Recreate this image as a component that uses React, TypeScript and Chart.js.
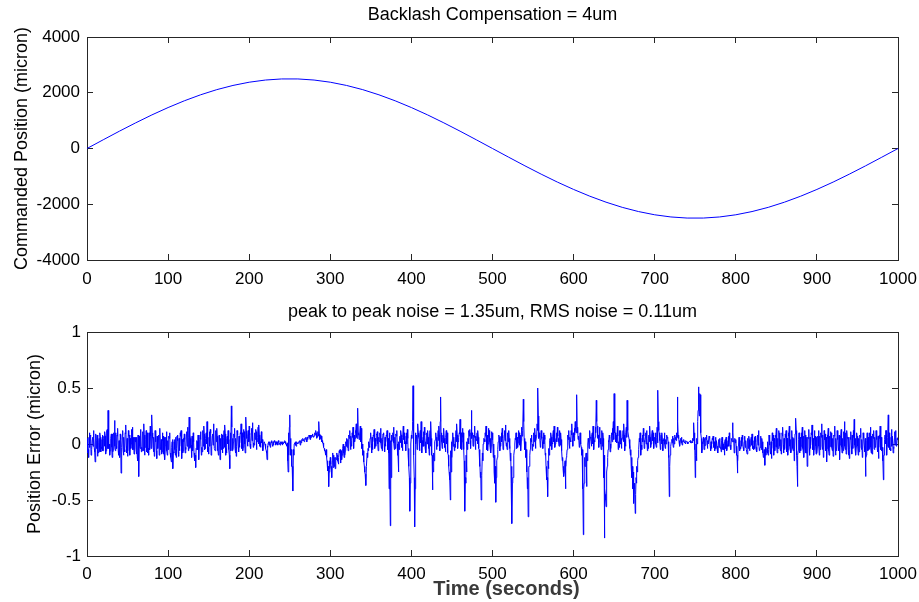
import React, { useEffect, useRef } from "react";
import { Chart, registerables } from "chart.js";

Chart.register(...registerables);

const FONT = "'Liberation Sans', Arial, Helvetica, sans-serif";

const topTitle = "Backlash Compensation = 4um";
const bottomTitle = "peak to peak noise = 1.35um, RMS noise = 0.11um";
const topYLabel = "Commanded Position (micron)";
const bottomYLabel = "Position Error (micron)";
const xLabel = "Time (seconds)";

// Commanded position (micron), sampled every 20 s
const cmdTimes = [
  0, 20, 40, 60, 80, 100, 120, 140, 160, 180, 200, 220, 240, 260, 280, 300, 320, 340, 360, 380,
  400, 420, 440, 460, 480, 500, 520, 540, 560, 580, 600, 620, 640, 660, 680, 700, 720, 740, 760, 780,
  800, 820, 840, 860, 880, 900, 920, 940, 960, 980, 1000,
];
const cmdPosition = [
  0, 313, 622, 920, 1205, 1469, 1711, 1926, 2111, 2262, 2378, 2456, 2495, 2495, 2456, 2378, 2262, 2111, 1926, 1711,
  1469, 1205, 920, 622, 313, 0, -313, -622, -920, -1205, -1469, -1711, -1926, -2111, -2262, -2378, -2456, -2495, -2495, -2456,
  -2378, -2262, -2111, -1926, -1711, -1469, -1205, -920, -622, -313, 0,
];

// Position error (micron) at even seconds t = 0, 2, ..., 1000
const posErrorEven = [
  0.05, -0.12, 0.08, -0.05, 0.12, -0.16, 0.03, -0.08, 0.1, -0.04,
  -0.06, 0.11, -0.03, 0.3, -0.1, 0.09, -0.07, 0.21, -0.02, 0.14,
  -0.08, -0.26, 0.12, -0.05, 0.17, -0.11, 0.08, -0.04, 0.15, -0.09,
  0.06, -0.12, -0.29, 0.13, -0.06, 0.18, -0.03, 0.1, -0.1, 0.16,
  0.26, -0.07, 0.12, -0.13, 0.05, 0.14, -0.09, 0.07, -0.14, 0.11,
  -0.05, 0.1, -0.16, -0.22, 0.04, -0.12, 0.08, -0.06, 0.12, -0.08,
  0.09, -0.05, 0.15, 0.24, -0.03, 0.06, -0.1, -0.21, 0.02, -0.14,
  0.11, -0.07, 0.16, -0.04, 0.2, -0.09, 0.13, -0.02, 0.18, -0.06,
  0.14, -0.1, -0.14, 0.09, -0.04, 0.17, -0.08, 0.12, -0.22, 0.34,
  -0.05, 0.14, -0.11, 0.08, -0.03, 0.18, -0.06, 0.11, 0.24, -0.02,
  0.16, -0.04, 0.19, -0.01, 0.13, 0.02, 0.17, -0.03, 0.04, 0.01,
  -0.02, -0.14, 0.02, -0.03, 0.03, -0.01, 0.02, 0.0, 0.03, -0.01,
  0.02, 0.0, 0.03, -0.02, -0.25, 0.26, -0.05, -0.42, 0.01, -0.02,
  0.0, 0.03, 0.01, 0.05, 0.02, 0.06, 0.04, 0.08, 0.05, 0.09,
  0.07, 0.12, 0.06, 0.2, 0.08, 0.03, -0.03, -0.1, -0.16, -0.38,
  -0.12, -0.3, -0.1, -0.22, -0.08, -0.18, -0.05, -0.14, 0.0, -0.1,
  0.05, -0.06, 0.12, -0.02, 0.15, 0.02, 0.18, 0.32, 0.04, 0.14,
  -0.1, -0.2, -0.37, -0.12, -0.02, 0.1, -0.05, 0.13, -0.02, 0.11,
  0.04, 0.14, -0.06, 0.1, -0.02, 0.12, -0.08, -0.73, 0.02, 0.15,
  -0.04, 0.12, -0.25, 0.07, -0.03, 0.16, 0.0, 0.1, -0.1, -0.6,
  0.08, 0.52, -0.74, 0.05, 0.18, -0.06, 0.2, -0.02, 0.15, -0.08,
  0.12, -0.1, 0.2, -0.41, -0.15, 0.1, -0.02, 0.16, 0.42, -0.04,
  0.14, -0.07, 0.1, -0.2, -0.5, -0.12, 0.06, -0.03, 0.18, 0.02,
  0.22, -0.05, 0.1, -0.6, -0.25, 0.05, 0.13, 0.3, -0.02, 0.16,
  0.03, 0.12, -0.2, -0.5, -0.15, 0.04, 0.16, -0.06, 0.12, -0.08,
  0.1, -0.25, -0.52, -0.12, 0.08, -0.02, 0.14, 0.0, 0.17, -0.05,
  0.12, -0.15, -0.71, -0.2, 0.05, -0.04, 0.12, 0.02, 0.15, 0.4,
  -0.05, -0.25, -0.65, -0.1, 0.08, -0.02, 0.14, 0.06, 0.5, 0.1,
  0.12, -0.04, 0.08, -0.2, -0.47, -0.1, 0.1, 0.0, 0.16, 0.04,
  0.15, -0.02, 0.1, -0.15, -0.29, -0.4, -0.05, 0.12, 0.03, 0.18,
  0.06, 0.2, 0.44, 0.05, 0.1, -0.1, -0.81, -0.2, -0.38, 0.05,
  0.12, -0.02, 0.16, 0.02, 0.39, 0.08, 0.15, -0.05, 0.1, -0.84,
  -0.56, -0.12, 0.08, -0.04, 0.14, 0.45, 0.02, 0.16, -0.03, 0.12,
  0.05, 0.18, -0.02, 0.39, 0.08, -0.1, -0.3, -0.53, -0.62, -0.2,
  -0.08, 0.1, -0.05, 0.14, 0.02, 0.12, -0.04, 0.16, 0.0, 0.1,
  0.06, -0.03, 0.48, 0.04, 0.08, -0.06, 0.1, 0.0, 0.05, -0.47,
  -0.02, 0.07, 0.0, 0.06, 0.42, 0.02, 0.05, -0.01, 0.04, 0.0,
  0.02, 0.01, 0.03, 0.02, 0.19, -0.3, 0.05, 0.51, 0.44, -0.08,
  0.06, -0.02, 0.08, 0.0, 0.05, -0.04, 0.07, -0.06, 0.03, -0.08,
  0.05, -0.07, 0.02, -0.1, 0.06, -0.03, 0.1, -0.05, 0.19, -0.08,
  0.04, -0.26, 0.06, -0.04, 0.08, -0.06, 0.03, -0.09, 0.07, -0.02,
  0.09, -0.05, 0.07, -0.07, 0.12, -0.03, 0.05, -0.12, -0.19, -0.06,
  -0.1, 0.04, -0.13, 0.08, -0.06, 0.14, -0.04, 0.1, -0.09, 0.15,
  -0.05, 0.12, -0.1, 0.16, -0.08, 0.06, -0.15, 0.23, -0.38, 0.1,
  -0.06, 0.15, -0.12, 0.08, -0.2, 0.13, -0.04, 0.17, -0.1, 0.07,
  -0.08, 0.12, -0.05, 0.18, -0.12, 0.09, -0.16, 0.14, -0.03, 0.1,
  -0.11, 0.16, -0.06, 0.08, -0.14, 0.13, -0.02, 0.2, -0.09, 0.06,
  -0.13, 0.11, -0.04, 0.22, -0.1, 0.07, -0.07, 0.14, -0.12, 0.05,
  -0.29, 0.1, -0.05, 0.15, -0.09, 0.12, -0.03, 0.09, -0.13, 0.16,
  -0.06, -0.32, 0.08, -0.1, 0.26, -0.05, 0.13, -0.08, 0.11, -0.02,
  0.06,
];

// Position error (micron) at odd seconds t = 1, 3, ..., 999
const posErrorOdd = [
  -0.08, 0.1, -0.1, 0.06, -0.04, 0.09, -0.11, 0.05, -0.07, 0.08,
  0.07, -0.09, 0.13, -0.04, 0.05, -0.12, 0.1, -0.06, 0.08, -0.1,
  0.09, -0.03, -0.1, 0.1, -0.08, 0.12, -0.1, 0.13, -0.05, 0.06,
  -0.09, 0.08, -0.02, -0.07, 0.11, -0.1, 0.12, -0.08, 0.09, -0.04,
  0.05, -0.11, 0.09, 0.0, -0.1, -0.02, 0.1, -0.08, 0.06, -0.1,
  0.07, -0.12, 0.02, -0.08, -0.1, 0.07, -0.11, 0.1, -0.13, 0.05,
  -0.08, 0.11, -0.06, 0.08, -0.12, 0.1, -0.15, -0.05, 0.08, 0.04,
  -0.1, 0.12, -0.05, 0.1, -0.07, 0.11, -0.1, 0.09, -0.04, 0.12,
  -0.06, 0.08, -0.02, -0.08, 0.12, -0.1, 0.07, -0.05, 0.1, -0.06,
  0.09, -0.08, 0.12, -0.07, 0.1, -0.04, 0.13, -0.08, 0.05, 0.12,
  -0.02, 0.14, -0.03, 0.1, -0.05, 0.15, -0.02, 0.11, -0.06, 0.02,
  -0.06, -0.03, 0.01, 0.02, -0.02, 0.03, -0.01, 0.02, 0.01, 0.02,
  -0.01, 0.02, 0.0, 0.01, -0.1, 0.05, -0.2, -0.1, 0.02, 0.01,
  0.02, -0.01, 0.04, 0.03, 0.05, 0.02, 0.07, 0.04, 0.08, 0.06,
  0.1, 0.05, 0.11, 0.04, 0.07, 0.01, -0.06, -0.05, -0.24, -0.15,
  -0.22, -0.08, -0.2, -0.12, -0.15, -0.06, -0.17, -0.04, -0.12, 0.02,
  -0.03, 0.08, -0.05, 0.1, -0.04, 0.12, 0.05, 0.1, 0.16, -0.04,
  -0.16, -0.27, -0.2, -0.06, 0.05, -0.08, 0.08, -0.04, 0.09, -0.06,
  0.1, -0.04, 0.09, -0.07, 0.08, -0.05, 0.1, -0.3, 0.1, -0.05,
  0.09, -0.1, -0.05, 0.12, -0.06, 0.1, -0.06, 0.13, -0.2, -0.1,
  0.12, -0.1, 0.1, -0.05, 0.06, 0.12, -0.08, 0.11, -0.04, 0.1,
  -0.04, 0.12, -0.1, -0.25, 0.02, -0.05, 0.12, -0.06, 0.1, 0.08,
  -0.03, 0.12, -0.08, -0.32, -0.25, 0.1, -0.06, 0.12, -0.04, 0.1,
  -0.04, 0.14, -0.15, -0.35, -0.05, 0.12, -0.04, 0.1, 0.08, -0.05,
  0.1, -0.04, -0.3, -0.28, 0.0, 0.1, -0.05, 0.14, -0.03, 0.11,
  -0.12, -0.35, -0.25, 0.02, -0.06, 0.1, -0.05, 0.12, -0.02, 0.1,
  -0.04, -0.35, -0.3, -0.05, 0.1, -0.03, 0.1, -0.06, 0.12, 0.05,
  -0.12, -0.4, -0.2, 0.05, -0.06, 0.1, -0.04, 0.18, 0.05, -0.03,
  0.05, 0.1, -0.1, -0.32, -0.22, 0.05, -0.05, 0.12, -0.03, 0.1,
  0.05, 0.12, -0.06, -0.22, -0.18, -0.12, 0.08, -0.04, 0.12, -0.02,
  0.14, 0.1, 0.15, -0.03, 0.0, -0.4, -0.35, -0.1, -0.15, -0.04,
  0.05, 0.1, -0.05, 0.15, 0.16, -0.03, 0.05, 0.12, -0.3, -0.45,
  -0.25, 0.03, -0.07, 0.1, 0.2, 0.1, 0.08, -0.05, 0.12, -0.04,
  0.12, -0.06, 0.15, 0.12, -0.04, -0.2, -0.4, -0.35, -0.3, -0.15,
  0.05, -0.1, 0.08, -0.04, 0.1, -0.06, 0.08, -0.03, 0.12, -0.04,
  0.1, 0.15, 0.12, -0.05, 0.1, 0.02, -0.04, 0.08, -0.12, -0.1,
  0.04, -0.03, 0.08, 0.1, 0.05, -0.02, 0.06, 0.02, 0.01, 0.02,
  0.0, 0.02, 0.01, 0.05, -0.05, 0.0, 0.2, 0.25, 0.1, 0.02,
  -0.05, 0.06, -0.04, 0.07, -0.06, 0.05, -0.03, 0.06, -0.05, 0.04,
  -0.04, 0.06, -0.05, 0.04, -0.06, 0.07, -0.02, 0.05, 0.02, 0.05,
  -0.1, -0.02, -0.06, 0.06, -0.03, 0.07, -0.05, 0.05, -0.06, 0.06,
  -0.04, 0.06, -0.05, 0.08, -0.06, 0.07, -0.08, -0.05, -0.1, 0.02,
  0.08, -0.09, 0.1, -0.1, 0.08, -0.08, 0.12, -0.06, 0.1, -0.08,
  0.09, -0.07, 0.1, -0.05, 0.12, -0.06, 0.09, -0.1, -0.06, -0.08,
  0.1, -0.06, 0.12, -0.08, 0.06, -0.1, 0.1, -0.05, 0.12, -0.09,
  0.07, -0.1, 0.1, -0.05, 0.12, -0.06, 0.08, -0.1, 0.11, -0.06,
  0.08, -0.1, 0.12, -0.06, 0.07, -0.08, 0.11, -0.05, 0.12, -0.1,
  0.06, -0.09, 0.12, -0.04, 0.1, -0.1, 0.08, -0.05, 0.1, -0.07,
  -0.1, -0.06, 0.1, -0.08, 0.09, -0.05, 0.12, -0.07, 0.08, -0.05,
  -0.15, -0.1, 0.12, 0.04, 0.1, -0.06, 0.07, -0.04, 0.12, 0.05,
];

// Position error (micron) at half seconds t = 0.5, 1.5, ..., 999.5
const posErrorHalf = [
  0.02, -0.05, 0.06, -0.03, 0.07, -0.06, 0.04, -0.02, 0.05, -0.07,
  0.03, -0.04, 0.08, -0.05, 0.01, -0.07, 0.06, -0.03, 0.04, -0.06,
  0.05, -0.02, 0.07, -0.06, 0.12, -0.04, 0.08, 0.0, -0.06, 0.05,
  -0.03, 0.09, -0.05, 0.06, -0.02, 0.1, -0.04, 0.07, -0.06, 0.03,
  -0.12, 0.04, -0.03, 0.08, -0.05, 0.06, -0.07, 0.09, -0.02, 0.05,
  -0.06, 0.07, -0.04, 0.05, 0.0, 0.08, -0.05, 0.06, -0.03, 0.02,
  -0.05, 0.06, -0.15, -0.02, 0.07, -0.04, 0.09, -0.03, 0.05, -0.06,
  0.08, -0.02, 0.04, -0.07, 0.06, -0.04, 0.1, -0.05, 0.07, 0.12,
  0.1, -0.03, 0.06, -0.08, 0.02, -0.06, 0.07, -0.04, 0.08, 0.01,
  -0.05, 0.04, -0.07, 0.03, -0.09, 0.06, -0.02, 0.05, -0.06, 0.03,
  -0.02, 0.05, -0.08, -0.12, -0.03, 0.04, -0.07, 0.02, -0.05, 0.06,
  -0.04, 0.03, -0.07, 0.05, -0.02, 0.07, -0.05, 0.04, -0.06, 0.02,
  0.04, -0.03, 0.08, -0.02, 0.12, 0.06, -0.04, 0.05, -0.01, 0.07,
  -0.06, 0.02, -0.08, -0.1, -0.04, 0.03, -0.05, 0.06, -0.02, 0.08,
  0.04, -0.03, 0.07, -0.02, 0.09, -0.04, 0.05, 0.0, 0.08, -0.03,
  0.06, -0.02, 0.1, -0.05, 0.07, -0.01, 0.09, -0.04, 0.06, 0.02,
  0.07, -0.04, -0.06, 0.03, 0.05, -0.05, 0.08, -0.02, 0.06, -0.03,
  0.09, -0.04, 0.05, 0.0, 0.07, -0.1, 0.04, -0.06, 0.15, 0.05,
  0.02, 0.06, -0.04, 0.05, -0.02, 0.08, -0.03, 0.07, 0.01, 0.09,
  -0.02, 0.1, -0.03, 0.06, 0.0, 0.08, 0.12, 0.04, 0.07, 0.02,
  0.08, 0.0, 0.1, 0.03, 0.09, 0.01, 0.07, 0.04, 0.11, 0.02,
  0.06, 0.0, 0.08, 0.02, 0.03, 0.01, 0.02, -0.01, 0.02, 0.0,
  -0.04, -0.08, -0.02, 0.01, -0.01, 0.02, 0.0, 0.01, -0.01, 0.02,
  0.01, 0.02, 0.0, 0.02, 0.01, -0.01, 0.02, 0.01, 0.02, 0.0,
  0.01, 0.02, 0.0, 0.01, 0.02, 0.0, -0.01, -0.15, 0.1, 0.15,
  0.05, -0.1, -0.2, -0.3, -0.05, 0.0, 0.01, -0.01, 0.02, 0.0,
  0.01, 0.02, 0.02, 0.03, 0.02, 0.03, 0.04, 0.03, 0.05, 0.04,
  0.04, 0.06, 0.05, 0.07, 0.06, 0.08, 0.06, 0.07, 0.08, 0.07,
  0.09, 0.08, 0.1, 0.09, 0.11, 0.07, 0.09, 0.06, 0.05, 0.02,
  0.01, -0.02, -0.04, -0.06, -0.08, -0.12, -0.15, -0.2, -0.25, -0.22,
  -0.18, -0.2, -0.15, -0.21, -0.16, -0.12, -0.18, -0.14, -0.1, -0.16,
  -0.12, -0.08, -0.13, -0.06, -0.1, -0.04, -0.08, -0.02, -0.06, 0.0,
  -0.02, 0.04, 0.0, 0.05, 0.02, 0.07, 0.03, 0.06, 0.01, 0.08,
  0.05, 0.1, 0.06, 0.12, 0.08, 0.04, 0.09, 0.02, 0.06, 0.0,
  -0.06, -0.15, -0.25, -0.3, -0.2, -0.08, -0.04, 0.02, -0.03, 0.05,
  0.0, 0.06, 0.02, 0.07, -0.01, 0.05, 0.03, 0.08, 0.0, 0.06,
  0.02, 0.07, 0.01, 0.05, 0.04, 0.08, 0.0, 0.06, 0.02, 0.07,
  -0.02, 0.05, -0.4, -0.2, 0.03, 0.08, 0.04, 0.09, 0.01, 0.06,
  0.03, 0.07, 0.0, -0.1, 0.02, 0.06, 0.01, 0.08, 0.03, 0.06,
  0.04, 0.08, 0.02, 0.07, 0.0, 0.05, -0.04, -0.3, -0.35, 0.0,
  0.05, 0.2, 0.3, -0.3, -0.4, 0.0, 0.08, 0.02, 0.1, 0.04,
  0.07, 0.01, 0.09, 0.03, 0.06, -0.02, 0.08, 0.02, 0.05, 0.0,
  0.06, 0.02, 0.08, -0.02, 0.05, -0.1, -0.2, -0.08, 0.0, 0.04,
  0.06, 0.0, 0.07, 0.03, 0.08, 0.2, 0.1, 0.02, 0.06, 0.01,
  0.05, -0.02, 0.06, 0.0, -0.05, -0.1, -0.25, -0.3, -0.06, 0.02,
  0.04, -0.02, 0.05, 0.0, 0.07, 0.02, 0.08, 0.03, 0.06, 0.09,
  0.05, 0.1, 0.02, 0.06, -0.05, -0.15, -0.3, -0.1, 0.02, 0.05,
  0.0, 0.07, 0.03, 0.1, 0.05, 0.08, 0.02, 0.06, 0.01, 0.07,
  0.05, 0.0, 0.06, -0.05, -0.12, -0.25, -0.3, -0.08, 0.0, 0.05,
  0.02, 0.07, 0.03, 0.08, 0.0, 0.06, 0.02, 0.05, -0.02, 0.04,
  0.05, 0.0, -0.1, -0.2, -0.3, -0.15, -0.05, 0.02, 0.06, 0.01,
  0.07, 0.02, 0.05, 0.0, 0.08, 0.03, 0.06, 0.01, 0.07, 0.02,
  0.05, 0.0, -0.08, -0.2, -0.35, -0.3, -0.1, 0.0, 0.04, -0.02,
  0.06, 0.01, 0.05, -0.01, 0.08, 0.03, 0.07, 0.12, 0.2, 0.05,
  0.02, -0.05, -0.15, -0.3, -0.35, -0.2, -0.05, 0.02, 0.06, 0.0,
  0.05, 0.02, 0.08, 0.03, 0.07, 0.12, 0.25, 0.1, 0.06, 0.03,
  0.08, 0.02, 0.06, 0.0, 0.04, -0.08, -0.2, -0.3, -0.15, -0.04,
  0.03, -0.02, 0.06, 0.01, 0.07, 0.02, 0.08, 0.0, 0.05, 0.02,
  0.07, 0.02, 0.05, -0.01, 0.04, -0.06, -0.12, -0.2, -0.25, -0.15,
  -0.2, -0.1, -0.02, 0.04, 0.0, 0.06, 0.02, 0.08, 0.04, 0.1,
  0.03, 0.08, 0.12, 0.2, 0.1, 0.04, 0.07, 0.0, 0.05, -0.03,
  -0.05, -0.3, -0.4, -0.12, -0.2, -0.08, -0.1, 0.0, 0.02, 0.05,
  0.06, 0.02, 0.07, 0.0, 0.08, 0.03, 0.06, 0.1, 0.2, 0.05,
  0.08, 0.02, 0.06, 0.0, 0.04, -0.02, 0.05, -0.1, -0.4, -0.5,
  -0.3, -0.2, -0.05, 0.02, 0.05, 0.0, 0.06, 0.02, 0.08, 0.04,
  0.2, 0.1, 0.05, 0.01, 0.07, 0.02, 0.08, 0.0, 0.05, 0.03,
  0.07, 0.02, 0.08, 0.04, 0.1, 0.06, 0.2, 0.08, 0.04, 0.0,
  -0.05, -0.12, -0.2, -0.25, -0.35, -0.4, -0.45, -0.35, -0.25, -0.12,
  -0.05, 0.02, 0.04, -0.01, 0.05, 0.02, 0.07, 0.03, 0.06, 0.0,
  0.05, 0.01, 0.07, 0.02, 0.06, 0.0, 0.08, 0.03, 0.05, 0.02,
  0.04, 0.0, 0.06, 0.01, 0.2, 0.1, 0.03, 0.05, 0.0, 0.04,
  0.02, 0.05, 0.0, 0.04, 0.01, 0.06, 0.02, -0.1, -0.2, -0.05,
  0.02, 0.04, 0.01, 0.05, 0.02, 0.04, 0.03, 0.06, 0.2, 0.08,
  0.03, 0.02, 0.04, 0.01, 0.03, 0.02, 0.02, 0.01, 0.03, 0.02,
  0.02, 0.01, 0.02, 0.02, 0.01, 0.02, 0.01, 0.03, 0.1, 0.05,
  -0.1, -0.15, 0.0, 0.3, 0.35, 0.45, 0.2, 0.05, -0.05, 0.0,
  0.02, 0.05, -0.01, 0.04, 0.01, 0.03, 0.0, 0.05, -0.02, 0.02,
  0.0, 0.04, -0.03, 0.02, 0.01, -0.04, 0.03, -0.02, 0.02, -0.03,
  0.01, -0.03, 0.03, -0.05, 0.0, -0.02, 0.02, -0.04, 0.01, -0.03,
  0.03, -0.02, 0.04, -0.01, 0.05, 0.02, 0.1, 0.03, -0.02, 0.01,
  -0.02, -0.1, -0.15, 0.0, 0.02, -0.03, 0.03, -0.02, 0.04, -0.04,
  0.02, -0.03, 0.03, -0.05, 0.01, -0.04, 0.04, -0.02, 0.03, -0.01,
  0.04, -0.02, 0.03, -0.04, 0.02, -0.03, 0.05, -0.01, 0.02, -0.04,
  0.01, -0.05, 0.02, -0.06, -0.1, -0.08, -0.03, -0.07, -0.04, -0.08,
  -0.05, -0.01, -0.07, 0.02, -0.04, 0.03, -0.03, 0.05, -0.02, 0.06,
  -0.03, 0.05, -0.04, 0.06, -0.02, 0.04, -0.05, 0.07, -0.01, 0.05,
  -0.04, 0.06, -0.03, 0.05, -0.05, 0.07, -0.02, 0.04, -0.06, 0.03,
  -0.04, 0.05, -0.07, 0.1, 0.12, -0.2, -0.1, 0.04, -0.03, 0.06,
  -0.02, 0.05, -0.04, 0.07, -0.03, 0.04, -0.08, 0.06, -0.02, 0.05,
  -0.04, 0.06, -0.01, 0.08, -0.03, 0.05, -0.05, 0.04, -0.02, 0.06,
  -0.03, 0.05, -0.02, 0.07, -0.04, 0.06, -0.02, 0.08, -0.05, 0.04,
  -0.03, 0.06, -0.04, 0.05, -0.06, 0.07, -0.02, 0.06, -0.03, 0.05,
  -0.04, 0.07, -0.02, 0.05, -0.05, 0.04, -0.03, 0.08, -0.01, 0.06,
  -0.03, 0.05, -0.06, 0.07, -0.02, 0.1, -0.04, 0.05, -0.03, 0.06,
  -0.05, 0.04, -0.02, 0.08, -0.04, 0.06, -0.01, 0.05, -0.03, 0.07,
  -0.02, 0.05, -0.04, 0.06, -0.03, 0.04, -0.05, 0.07, -0.02, 0.05,
  -0.12, 0.03, -0.02, 0.06, -0.04, 0.05, -0.03, 0.07, -0.02, 0.05,
  -0.04, 0.06, -0.01, 0.04, -0.05, 0.07, -0.03, 0.05, -0.02, 0.06,
  -0.03, -0.12, -0.1, 0.04, 0.0, 0.12, -0.02, 0.06, -0.03, 0.05,
  -0.04, 0.06, -0.02, 0.07, -0.03, 0.05, -0.01, 0.06, 0.0, 0.04,
];

const xTickMin = 0;
const xTickMax = 1000;
const xTickStep = 100;
const topYMin = -4000;
const topYMax = 4000;
const topYStep = 2000;
const botYMin = -1;
const botYMax = 1;
const botYStep = 0.5;

const AXIS_COLOR = "#262626";
const LINE_COLOR = "#0000ff";

type AxisOpts = {
  position: "left" | "right" | "top" | "bottom";
  min: number;
  max: number;
  step: number;
  labels: boolean;
  pad: number;
  size: number;
  title?: { text: string; size: number; bold?: boolean; color?: string; padding: { top: number; bottom: number } };
};

function makeAxis(o: AxisOpts): any {
  const horizontal = o.position === "top" || o.position === "bottom";
  return {
    type: "linear",
    position: o.position,
    min: o.min,
    max: o.max,
    ticks: {
      display: o.labels,
      stepSize: o.step,
      padding: o.pad,
      autoSkip: false,
      maxRotation: 0,
      color: "#000",
      font: { family: FONT, size: 17 },
      callback: (v: any) => String(v),
    },
    grid: {
      display: true,
      drawOnChartArea: false,
      drawTicks: true,
      tickLength: -6,
      color: AXIS_COLOR,
      lineWidth: 1,
    },
    border: { display: true, color: AXIS_COLOR, width: 1 },
    title: o.title
      ? {
          display: true,
          text: o.title.text,
          color: o.title.color || "#000",
          font: { family: FONT, size: o.title.size, weight: o.title.bold ? "bold" : "normal" },
          padding: o.title.padding,
        }
      : { display: false },
    afterFit: (scale: any) => {
      if (horizontal) {
        scale.height = o.size;
        scale.paddingLeft = 0;
        scale.paddingRight = 0;
      } else {
        scale.width = o.size;
        scale.paddingTop = 0;
        scale.paddingBottom = 0;
      }
    },
  };
}

// Draws the bold x-axis label slightly right of the axis centre, as in the reference
function makeXLabelPlugin(text: string, dx: number, y: number) {
  return {
    id: "xLabelText",
    afterDraw(chart: any) {
      const { ctx, chartArea } = chart;
      ctx.save();
      ctx.font = `bold 20px ${FONT}`;
      ctx.fillStyle = "#3a3a3a";
      ctx.textAlign = "center";
      ctx.textBaseline = "middle";
      ctx.fillText(text, (chartArea.left + chartArea.right) / 2 + dx, y);
      ctx.restore();
    },
  };
}

function SubPlot(props: {
  height: number;
  data: { x: number; y: number }[];
  yMin: number;
  yMax: number;
  yStep: number;
  title: string;
  titlePad: number;
  topH: number;
  bottomH: number;
  yLabel: string;
  yLabelPad: number;
  yTickPad: number;
  xTickPad: number;
  xTitle?: string;
}) {
  const ref = useRef<HTMLCanvasElement | null>(null);
  useEffect(() => {
    if (!ref.current) return;
    const p = props;
    const chart = new Chart(ref.current, {
      type: "line",
      data: {
        datasets: [
          {
            data: p.data,
            borderColor: LINE_COLOR,
            borderWidth: 1,
            pointRadius: 0,
            fill: false,
            tension: 0,
            xAxisID: "x",
            yAxisID: "y",
          },
        ],
      },
      plugins: p.xTitle ? [makeXLabelPlugin(p.xTitle, 14, 289)] : [],
      options: {
        animation: false,
        responsive: false,
        devicePixelRatio: 1,
        parsing: false as any,
        layout: { padding: 0 },
        plugins: { legend: { display: false }, tooltip: { enabled: false }, title: { display: false } },
        scales: {
          x: makeAxis({
            position: "bottom",
            min: xTickMin,
            max: xTickMax,
            step: xTickStep,
            labels: true,
            pad: p.xTickPad,
            size: p.bottomH,
          }),
          x2: makeAxis({
            position: "top",
            min: xTickMin,
            max: xTickMax,
            step: xTickStep,
            labels: false,
            pad: 0,
            size: p.topH,
            title: { text: p.title, size: 18, padding: { top: p.titlePad, bottom: 0 } },
          }),
          y: makeAxis({
            position: "left",
            min: p.yMin,
            max: p.yMax,
            step: p.yStep,
            labels: true,
            pad: p.yTickPad,
            size: 87,
            title: { text: p.yLabel, size: 18, padding: { top: p.yLabelPad, bottom: 0 } },
          }),
          y2: makeAxis({
            position: "right",
            min: p.yMin,
            max: p.yMax,
            step: p.yStep,
            labels: false,
            pad: 0,
            size: 21,
          }),
        } as any,
      },
    });
    return () => chart.destroy();
  }, []);
  return <canvas ref={ref} width={919} height={props.height} style={{ display: "block", width: 919, height: props.height }} />;
}

const cmdData = cmdTimes.map((t, i) => ({ x: t, y: cmdPosition[i] }));
const errData: { x: number; y: number }[] = [];
posErrorEven.forEach((v, i) => {
  errData.push({ x: 2 * i, y: v });
  if (i < posErrorHalf.length / 2) {
    errData.push({ x: 2 * i + 0.5, y: posErrorHalf[2 * i] });
    errData.push({ x: 2 * i + 1, y: posErrorOdd[i] });
    errData.push({ x: 2 * i + 1.5, y: posErrorHalf[2 * i + 1] });
  }
});

export default function App() {
  return (
    <div style={{ position: "absolute", left: 0, top: 0, width: 919, height: 602, background: "#fff" }}>
      <SubPlot
        height={300}
        data={cmdData}
        yMin={topYMin}
        yMax={topYMax}
        yStep={topYStep}
        title={topTitle}
        titlePad={4}
        topH={37}
        bottomH={40}
        yLabel={topYLabel}
        yLabelPad={11}
        yTickPad={13}
        xTickPad={15}
      />
      <SubPlot
        height={302}
        data={errData}
        yMin={botYMin}
        yMax={botYMax}
        yStep={botYStep}
        title={bottomTitle}
        titlePad={1}
        topH={32}
        bottomH={46}
        yLabel={bottomYLabel}
        yLabelPad={24}
        yTickPad={12}
        xTickPad={14.5}
        xTitle={xLabel}
      />
    </div>
  );
}
